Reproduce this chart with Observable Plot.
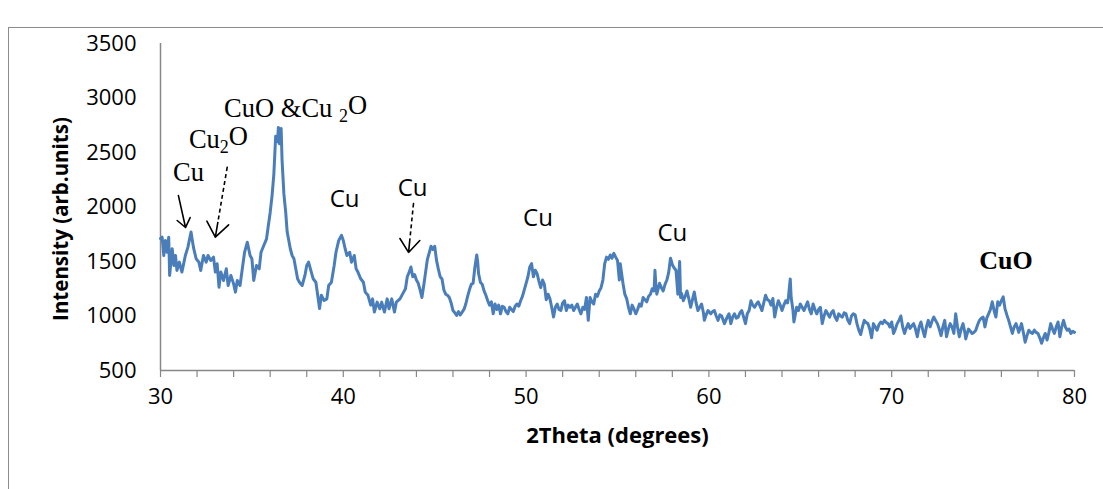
<!DOCTYPE html>
<html>
<head>
<meta charset="utf-8">
<script src="https://cdn.jsdelivr.net/npm/d3@7"></script>
<script src="https://cdn.jsdelivr.net/npm/@observablehq/plot@0.6"></script>
<style>
  html, body { margin: 0; padding: 0; background: #fff; overflow: hidden; }
  #wrap { position: relative; width: 1103px; height: 489px; }
  #frame { position: absolute; left: 8px; top: 27px; width: 1200px; height: 600px; border: 1.5px solid #8c8c8c; }
  #chart { position: absolute; left: 0; top: 0; }
</style>
</head>
<body>
<div id="wrap"><div id="frame"></div><div id="chart"></div></div>
<script>
// ---- data: XRD pattern, [2θ (degrees), intensity (arb. units)] ----
const pattern = [
[30.0,1710],[30.09,1723],[30.18,1555],[30.27,1693],[30.36,1585],[30.45,1723],[30.5,1372],[30.64,1617],[30.73,1464],[30.82,1555],
[30.9,1418],[31.03,1494],[31.17,1403],[31.36,1555],[31.5,1632],[31.67,1770],[31.8,1632],[31.95,1525],[32.1,1494],[32.2,1418],
[32.35,1555],[32.5,1494],[32.6,1555],[32.75,1509],[32.9,1540],[33.0,1403],[33.1,1479],[33.2,1264],[33.3,1403],[33.45,1326],
[33.6,1433],[33.7,1280],[33.85,1372],[34.0,1295],[34.1,1219],[34.2,1326],[34.35,1280],[34.5,1464],[34.6,1585],[34.75,1677],
[34.9,1555],[35.0,1525],[35.1,1326],[35.25,1464],[35.4,1433],[35.5,1585],[35.65,1647],[35.8,1708],[35.9,1830],[36.0,1950],
[36.1,2100],[36.2,2300],[36.3,2650],[36.4,2600],[36.45,2730],[36.5,2580],[36.6,2720],[36.65,2430],[36.75,2120],[36.85,1950],
[36.93,1770],[37.0,1708],[37.1,1617],[37.2,1555],[37.3,1525],[37.4,1433],[37.5,1342],[37.6,1310],[37.75,1280],[37.9,1372],
[38.0,1464],[38.1,1494],[38.25,1403],[38.35,1342],[38.5,1310],[38.6,1190],[38.7,1069],[38.8,1190],[38.95,1142],[39.1,1157],
[39.2,1280],[39.35,1310],[39.5,1464],[39.6,1585],[39.75,1693],[39.9,1740],[40.0,1693],[40.1,1617],[40.2,1555],[40.35,1585],
[40.45,1494],[40.6,1555],[40.7,1433],[40.8,1403],[40.95,1342],[41.1,1310],[41.2,1219],[41.35,1190],[41.5,1100],[41.6,1157],
[41.7,1036],[41.85,1127],[42.0,1066],[42.1,1127],[42.25,1036],[42.4,1157],[42.5,1066],[42.65,1157],[42.8,1036],[42.9,1127],
[43.1,1157],[43.3,1219],[43.4,1250],[43.5,1360],[43.6,1400],[43.7,1450],[43.8,1360],[43.9,1380],[44.0,1330],[44.1,1300],
[44.2,1240],[44.3,1170],[44.4,1280],[44.5,1400],[44.6,1520],[44.7,1580],[44.8,1640],[44.9,1610],[45.0,1640],[45.1,1510],
[45.2,1430],[45.3,1360],[45.4,1340],[45.5,1240],[45.6,1200],[45.7,1190],[45.8,1170],[45.9,1120],[46.0,1050],[46.1,1030],
[46.2,1005],[46.3,1040],[46.4,1010],[46.5,1035],[46.6,1060],[46.7,1110],[46.8,1180],[46.9,1240],[47.0,1290],[47.1,1300],
[47.2,1450],[47.3,1560],[47.35,1500],[47.4,1390],[47.5,1310],[47.6,1290],[47.7,1230],[47.8,1190],[47.9,1140],[48.0,1100],
[48.1,1130],[48.2,1020],[48.3,1110],[48.4,1060],[48.5,1100],[48.6,1020],[48.7,1090],[48.8,1080],[48.9,1040],[49.0,1020],
[49.1,1080],[49.2,1060],[49.3,1040],[49.4,1090],[49.5,1110],[49.6,1090],[49.7,1140],[49.8,1180],[49.9,1240],[50.0,1300],
[50.1,1360],[50.2,1450],[50.3,1480],[50.4,1360],[50.5,1420],[50.6,1390],[50.7,1320],[50.8,1260],[50.9,1330],[51.0,1290],
[51.1,1150],[51.2,1200],[51.3,1160],[51.4,1080],[51.5,990],[51.6,1080],[51.7,1110],[51.8,1060],[51.9,1050],[52.0,1120],
[52.1,1140],[52.2,1050],[52.3,1100],[52.4,1080],[52.5,1100],[52.6,1050],[52.7,1080],[52.8,1110],[52.9,1060],[53.0,1020],
[53.1,1080],[53.2,1060],[53.3,1170],[53.4,960],[53.5,1170],[53.6,1130],[53.7,1110],[53.8,1200],[53.9,1180],[54.0,1230],
[54.1,1260],[54.2,1330],[54.3,1480],[54.4,1540],[54.5,1520],[54.6,1560],[54.7,1530],[54.8,1575],[54.9,1540],[55.0,1510],
[55.1,1330],[55.15,1480],[55.3,1300],[55.4,1200],[55.5,1160],[55.6,1080],[55.7,1020],[55.8,1100],[55.9,1065],[56.0,1020],
[56.1,1060],[56.2,1110],[56.3,1090],[56.4,1170],[56.5,1150],[56.6,1130],[56.7,1180],[56.8,1200],[56.9,1250],[57.0,1230],
[57.05,1420],[57.1,1280],[57.15,1200],[57.3,1300],[57.4,1260],[57.5,1230],[57.6,1290],[57.7,1330],[57.8,1400],[57.9,1530],
[58.0,1470],[58.1,1440],[58.2,1420],[58.3,1200],[58.4,1500],[58.45,1170],[58.5,1210],[58.6,1140],[58.7,1180],[58.8,1230],
[58.9,1160],[59.0,1080],[59.1,1150],[59.2,1220],[59.3,1120],[59.4,1050],[59.5,1080],[59.6,1110],[59.7,1030],[59.75,960],
[59.85,1010],[59.95,1050],[60.1,1020],[60.2,1040],[60.3,1050],[60.4,1000],[60.5,960],[60.6,1010],[60.7,1000],[60.85,930],
[61.0,990],[61.1,1020],[61.2,930],[61.3,990],[61.4,1020],[61.5,980],[61.6,990],[61.7,1030],[61.8,1050],[61.9,990],
[62.0,930],[62.1,1020],[62.2,1050],[62.3,1140],[62.4,1100],[62.5,1080],[62.6,1110],[62.7,1130],[62.8,1090],[62.9,1050],
[63.0,1120],[63.1,1190],[63.2,1150],[63.3,1140],[63.4,1100],[63.5,1160],[63.6,990],[63.7,1080],[63.8,1140],[63.9,1100],
[64.0,1050],[64.1,1100],[64.2,1140],[64.3,1120],[64.35,1170],[64.45,1340],[64.5,1170],[64.6,1050],[64.65,945],[64.8,1080],
[64.9,1050],[65.0,1110],[65.1,1080],[65.2,1050],[65.3,1090],[65.4,1130],[65.5,1060],[65.6,1020],[65.7,1110],[65.8,1060],
[65.9,1020],[66.0,1060],[66.1,1080],[66.2,930],[66.3,1000],[66.4,1050],[66.5,1020],[66.6,990],[66.7,1030],[66.8,1050],
[66.9,990],[67.0,960],[67.1,1020],[67.2,1000],[67.3,990],[67.4,1030],[67.5,1020],[67.6,960],[67.7,930],[67.8,1000],
[67.9,1020],[68.0,1010],[68.1,930],[68.2,870],[68.3,830],[68.4,900],[68.5,960],[68.6,940],[68.7,930],[68.8,880],
[68.9,800],[69.0,930],[69.1,900],[69.2,870],[69.3,920],[69.4,945],[69.5,930],[69.6,960],[69.7,940],[69.8,930],
[69.9,900],[70.0,945],[70.1,840],[70.2,880],[70.3,930],[70.4,960],[70.5,1000],[70.6,900],[70.7,840],[70.8,890],
[70.9,930],[71.0,885],[71.1,910],[71.2,930],[71.3,880],[71.4,810],[71.5,900],[71.6,945],[71.7,870],[71.8,810],
[71.9,900],[72.0,960],[72.1,900],[72.2,950],[72.3,990],[72.4,960],[72.5,930],[72.6,880],[72.7,820],[72.8,900],
[72.9,960],[73.0,810],[73.1,880],[73.2,930],[73.3,900],[73.4,840],[73.5,1020],[73.6,900],[73.7,810],[73.8,880],
[73.9,930],[74.0,850],[74.05,790],[74.2,880],[74.3,860],[74.4,840],[74.5,850],[74.6,870],[74.7,920],[74.8,960],
[74.9,980],[75.0,990],[75.1,900],[75.2,980],[75.3,1020],[75.4,1060],[75.5,1130],[75.6,1050],[75.7,990],[75.8,1130],
[75.9,1100],[76.0,1140],[76.1,1175],[76.2,1065],[76.3,1010],[76.4,960],[76.5,900],[76.6,840],[76.7,900],[76.8,930],
[76.9,880],[76.95,850],[77.1,930],[77.2,850],[77.3,760],[77.4,820],[77.5,870],[77.6,850],[77.7,840],[77.8,870],
[77.9,850],[78.0,840],[78.1,800],[78.2,750],[78.3,800],[78.4,840],[78.5,780],[78.6,850],[78.7,930],[78.8,880],
[78.9,840],[79.0,900],[79.1,945],[79.2,810],[79.3,900],[79.4,960],[79.5,900],[79.6,870],[79.7,880],[79.8,840],
[79.9,860],[80.0,850]
];
const xTickLabels = [30, 40, 50, 60, 70, 80];
const xMinorTicks = [30,32,34,36,38,40,42,44,46,48,50,52,54,56,58,60,62,64,66,68,70,72,74,76,78,80];
const yTickLabels = [500, 1000, 1500, 2000, 2500, 3000, 3500];
const xTitle = "2Theta (degrees)";
const yTitle = "Intensity (arb.units)";

// annotations (text, 2θ, intensity)
const serifLabels = ["Cu", "Cu\u2082O", "CuO &Cu \u2082O"];
const serifX = [31.53, 33.17, 37.39];
const serifY = [2312, 2619, 2908];
const sansLabels = ["Cu", "Cu", "Cu", "Cu"];
const sansX = [40.07, 43.79, 50.65, 58.0];
const sansY = [2073, 2174, 1899, 1757];
const boldLabels = ["CuO"];
const boldX = [76.25];
const boldY = [1509];
// arrows: start -> tip
const solidArrow = {x1: [30.98], y1: [2105], x2: [31.37], y2: [1812]};
const dashedArrows = {x1: [33.65, 43.84], y1: [2365, 2032], x2: [33.0, 43.57], y2: [1723, 1583]};

// ---- build ----
const series = pattern.map(([t, v]) => ({t, v}));
const mk = (labels, xs, ys) => labels.map((s, i) => ({s, x: xs[i], y: ys[i]}));
const arr = (o) => o.x1.map((_, i) => ({x1: o.x1[i], y1: o.y1[i], x2: o.x2[i], y2: o.y2[i]}));
// white gaps laid over the shaft of the dashed arrows (not over the head)
const gaps = arr(dashedArrows).map(d => ({x1: d.x1, y1: d.y1, x2: d.x1 + (d.x2 - d.x1) * 0.78, y2: d.y1 + (d.y2 - d.y1) * 0.78}));
const axisColor = "#878787";
const sans = "'Open Sans', 'Noto Sans', sans-serif";
const serif = "'Liberation Serif', 'DejaVu Serif', serif";

const chart = Plot.plot({
  width: 1103,
  height: 489,
  marginLeft: 160,
  marginRight: 29,
  marginTop: 43,
  marginBottom: 119,
  style: {background: "transparent", fontFamily: sans, color: "#000"},
  x: {domain: [30, 80]},
  y: {domain: [500, 3500]},
  marks: [
    Plot.ruleX([30], {stroke: axisColor, strokeWidth: 1.5}),
    Plot.ruleY([500], {stroke: axisColor, strokeWidth: 1.5}),
    Plot.axisX(xMinorTicks, {tickSize: 7, tickFormat: () => "", stroke: axisColor, strokeWidth: 1.2, label: null}),
    Plot.axisX(xTickLabels, {tickSize: 0, tickPadding: 18, fontSize: 22, fill: "#000", label: null}),
    Plot.axisY(yTickLabels, {tickSize: 0, tickPadding: 24, fontSize: 22, fill: "#000", label: null, tickFormat: d => String(d)}),
    Plot.text([xTitle], {frameAnchor: "bottom", dy: 72, fontSize: 22, fontWeight: "bold", fill: "#000"}),
    Plot.text([yTitle], {frameAnchor: "left", textAnchor: "middle", rotate: -90, dx: -99, dy: 12, fontSize: 20.5, fontWeight: "bold", fill: "#000"}),
    Plot.line(series, {x: "t", y: "v", stroke: "#4a7ebb", strokeWidth: 3, strokeLinejoin: "round"}),
    Plot.arrow(arr(solidArrow), {x1: "x1", y1: "y1", x2: "x2", y2: "y2", stroke: "#000", strokeWidth: 1.6, headLength: 17, headAngle: 75}),
    Plot.arrow(arr(dashedArrows), {x1: "x1", y1: "y1", x2: "x2", y2: "y2", stroke: "#000", strokeWidth: 1.6, headLength: 17, headAngle: 75}),
    Plot.link(gaps, {x1: "x1", y1: "y1", x2: "x2", y2: "y2", stroke: "#fff", strokeWidth: 4, strokeLinecap: "butt", strokeDasharray: "0,4,3,0"}),
    Plot.text(mk(serifLabels, serifX, serifY), {x: "x", y: "y", text: "s", fontFamily: serif, fontSize: 26.5, fill: "#000"}),
    Plot.text(mk(sansLabels, sansX, sansY), {x: "x", y: "y", text: "s", fontFamily: sans, fontSize: 24, fill: "#000"}),
    Plot.text(mk(boldLabels, boldX, boldY), {x: "x", y: "y", text: "s", fontFamily: serif, fontSize: 26, fontWeight: "bold", fill: "#000"})
  ]
});

// render subscript digits as real subscripts
d3.select(chart).selectAll("text").each(function() {
  const el = d3.select(this);
  const s = this.textContent;
  if (!s || s.indexOf("\u2082") < 0 || this.querySelector("tspan")) return;
  const [a, b] = s.split("\u2082");
  el.text(null);
  el.append("tspan").text(a);
  el.append("tspan").attr("dy", "0.3em").attr("font-size", "0.68em").text("2");
  el.append("tspan").attr("dy", "-0.3em").text(b);
});

document.getElementById("chart").appendChild(chart);
</script>
</body>
</html>
